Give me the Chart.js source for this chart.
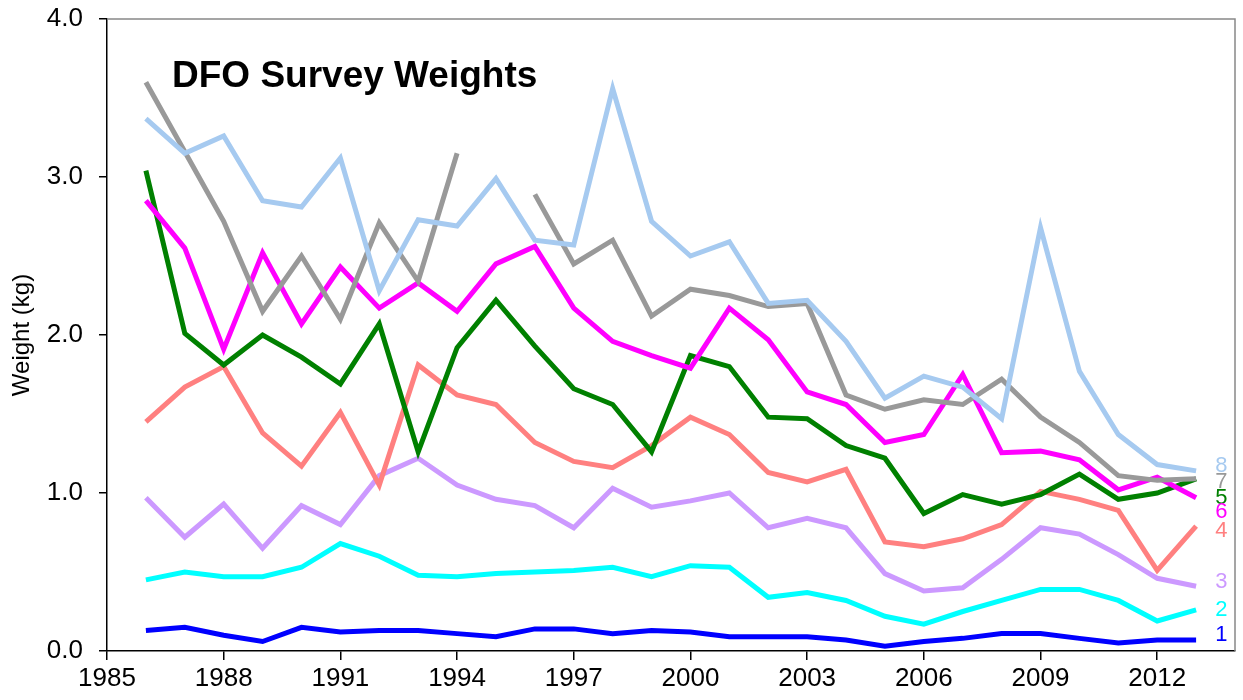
<!DOCTYPE html>
<html><head><meta charset="utf-8">
<script src="https://cdn.jsdelivr.net/npm/chart.js@4/dist/chart.umd.min.js"></script>
<style>html,body{margin:0;padding:0;background:#fff}#wrap{width:1243px;height:700px}</style>
</head><body><div id="wrap"><canvas id="c" width="1243" height="700"></canvas></div>
<script>
const years = [1986,1987,1988,1989,1990,1991,1992,1993,1994,1995,1996,1997,1998,1999,2000,2001,2002,2003,2004,2005,2006,2007,2008,2009,2010,2011,2012,2013];
const s1 = [0.13,0.15,0.10,0.06,0.15,0.12,0.13,0.13,0.11,0.09,0.14,0.14,0.11,0.13,0.12,0.09,0.09,0.09,0.07,0.03,0.06,0.08,0.11,0.11,0.08,0.05,0.07,0.07];
const s2 = [0.45,0.50,0.47,0.47,0.53,0.68,0.60,0.48,0.47,0.49,0.50,0.51,0.53,0.47,0.54,0.53,0.34,0.37,0.32,0.22,0.17,0.25,0.32,0.39,0.39,0.32,0.19,0.26];
const s3 = [0.97,0.72,0.93,0.65,0.92,0.80,1.11,1.22,1.05,0.96,0.92,0.78,1.03,0.91,0.95,1.00,0.78,0.84,0.78,0.49,0.38,0.40,0.58,0.78,0.74,0.61,0.46,0.41];
const s4 = [1.45,1.67,1.80,1.38,1.17,1.51,1.05,1.81,1.62,1.56,1.32,1.20,1.16,1.30,1.48,1.37,1.13,1.07,1.15,0.69,0.66,0.71,0.80,1.01,0.96,0.89,0.51,0.79];
const s5 = [3.04,2.01,1.81,2.00,1.86,1.69,2.07,1.26,1.92,2.22,1.93,1.66,1.56,1.26,1.87,1.80,1.48,1.47,1.30,1.22,0.87,0.99,0.93,0.99,1.12,0.96,1.00,1.09];
const s6 = [2.85,2.55,1.91,2.52,2.07,2.43,2.17,2.33,2.15,2.45,2.56,2.17,1.96,1.87,1.79,2.17,1.97,1.64,1.56,1.32,1.37,1.75,1.255,1.265,1.21,1.02,1.10,0.97];
const s7 = [3.60,3.16,2.72,2.15,2.50,2.10,2.71,2.34,3.15,null,2.89,2.45,2.60,2.12,2.29,2.25,2.18,2.20,1.62,1.53,1.59,1.56,1.72,1.48,1.32,1.11,1.08,1.09];
const s8 = [3.37,3.15,3.26,2.85,2.81,3.12,2.28,2.73,2.69,2.99,2.60,2.57,3.56,2.72,2.50,2.59,2.20,2.22,1.96,1.60,1.74,1.67,1.47,2.68,1.77,1.37,1.18,1.14];
const seriesNames = ['1','2','3','4','5','6','7','8'];
const seriesColors = ['#0000FF','#00FFFF','#CC99FF','#FF8080','#008000','#FF00FF','#999999','#A6CAF0'];
const labelX = 2013.65;
const labelY = [0.10,0.26,0.44,0.76,0.97,0.88,1.07,1.17];
const xTicks = [1985,1988,1991,1994,1997,2000,2003,2006,2009,2012];
const yTicks = [0,1,2,3,4];
const chartTitle = 'DFO Survey Weights';
const yTitle = 'Weight (kg)';

const allSeries = [s1,s2,s3,s4,s5,s6,s7,s8];
const FONT = '"Liberation Sans", Arial, sans-serif';

const datasets = allSeries.map((s, i) => ({
  label: seriesNames[i],
  data: years.map((y, k) => ({x: y, y: s[k]})),
  borderColor: seriesColors[i],
  backgroundColor: seriesColors[i],
  borderWidth: 5,
  pointRadius: 0,
  tension: 0,
  spanGaps: false,
  order: allSeries.length - 1 - i
}));

const framePlugin = {
  id: 'frame',
  beforeDatasetsDraw(chart) {
    const a = chart.chartArea, ctx = chart.ctx;
    ctx.save();
    ctx.strokeStyle = '#888888';
    ctx.lineWidth = 1.5;
    ctx.beginPath();
    ctx.moveTo(a.left, a.top);
    ctx.lineTo(a.right, a.top);
    ctx.lineTo(a.right, a.bottom);
    ctx.stroke();
    ctx.restore();
  },
  afterDatasetsDraw(chart) {
    const a = chart.chartArea, ctx = chart.ctx;
    const xs = chart.scales.x, ys = chart.scales.y;
    ctx.save();
    ctx.fillStyle = '#000';
    ctx.font = 'bold 37px ' + FONT;
    ctx.textAlign = 'left';
    ctx.textBaseline = 'alphabetic';
    ctx.fillText(chartTitle, a.left + 65, a.top + 68);
    ctx.font = '22px ' + FONT;
    ctx.textAlign = 'center';
    ctx.textBaseline = 'middle';
    seriesNames.forEach((n, i) => {
      ctx.fillStyle = seriesColors[i];
      ctx.fillText(n, xs.getPixelForValue(labelX), ys.getPixelForValue(labelY[i]));
    });
    ctx.restore();
  }
};

new Chart(document.getElementById('c'), {
  type: 'line',
  data: { datasets },
  options: {
    responsive: false,
    animation: false,
    devicePixelRatio: 1,
    layout: { padding: { top: 19, right: 8, left: 0, bottom: 0 } },
    plugins: { legend: { display: false }, tooltip: { enabled: false }, title: { display: false } },
    scales: {
      x: {
        type: 'linear', min: 1985, max: 2014,
        afterBuildTicks: (sc) => { sc.ticks = xTicks.map(v => ({value: v})); },
        afterFit: (sc) => { sc.height = 49; sc.paddingLeft = 0; sc.paddingRight = 0; },
        ticks: { color: '#000', font: { family: FONT, size: 26 }, padding: 3, maxRotation: 0, autoSkip: false, callback: v => String(v) },
        grid: { display: true, drawOnChartArea: false, drawTicks: true, tickLength: 9, color: '#000', lineWidth: 1.5 },
        border: { display: true, color: '#000', width: 1.5 }
      },
      y: {
        type: 'linear', min: 0, max: 4,
        afterBuildTicks: (sc) => { sc.ticks = yTicks.map(v => ({value: v})); },
        afterFit: (sc) => { sc.width = 107; sc.paddingTop = 0; sc.paddingBottom = 0; },
        ticks: { color: '#000', font: { family: FONT, size: 26 }, padding: 16, callback: v => Number(v).toFixed(1) },
        grid: { display: true, drawOnChartArea: false, drawTicks: true, tickLength: 8, color: '#000', lineWidth: 1.5 },
        border: { display: true, color: '#000', width: 1.5 },
        title: { display: true, text: yTitle, color: '#000', font: { family: FONT, size: 24 }, padding: { top: 8, bottom: 0 } }
      }
    }
  },
  plugins: [framePlugin]
});
</script>
</body></html>
